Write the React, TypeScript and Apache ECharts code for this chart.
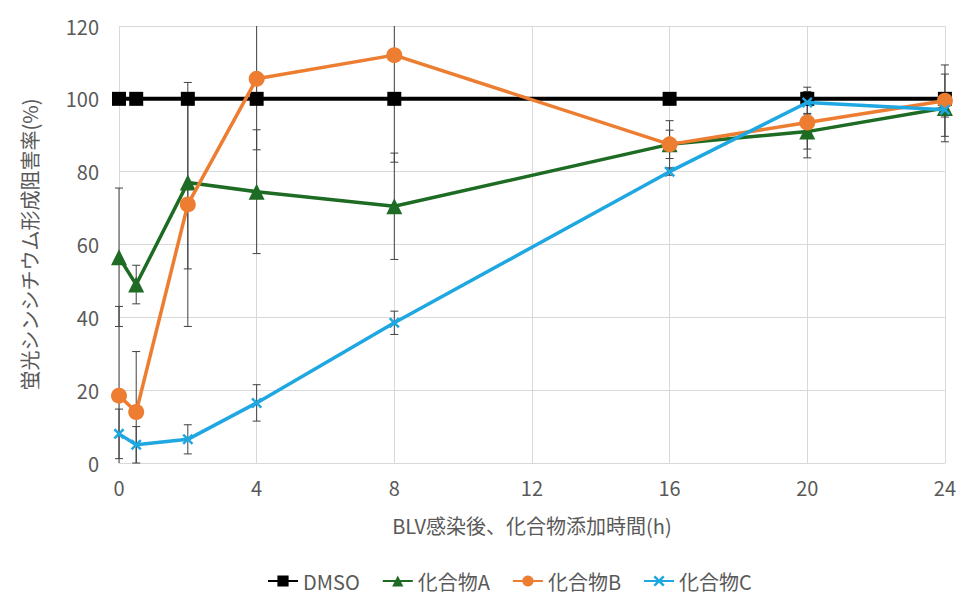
import React, { useEffect, useRef } from "react";
import * as echarts from "echarts";

const hours = [0, 0.5, 2, 4, 8, 16, 20, 24];
const dmso = [100, 100, 100, 100, 100, 100, 100, 100];
const compA = [56.5, 49, 77, 74.5, 70.5, 87.5, 91, 97.5];
const compB = [18.5, 14, 71, 105.5, 112, 87.5, 93.5, 99.5];
const compC = [8, 5, 6.5, 16.5, 38.5, 80, 99, 97];
const errA = [19, 5.3, 23.7, 17, 14.6, 6.5, 4.8, 9.3];
const errB = [24.5, 16.6, 33.5, 19.5, 29.4, 3.9, 9.7, 9.8];
const errC = [6.8, 5, 4, 5, 3.2, 1, 3, 2];
const seriesNames = ["DMSO", "化合物A", "化合物B", "化合物C"];
const xTicks = { min: 0, max: 24, interval: 4 };
const yTicks = { min: 0, max: 120, interval: 20 };

const FONT = "'Noto Sans CJK JP', 'Noto Sans', sans-serif";
const TEXT = "#595959";
const GRID = "#d9d9d9";

const pairs = (vals: number[]) => hours.map((h, i) => [h, vals[i]]);
const triples = (vals: number[], errs: number[]) => hours.map((h, i) => [h, vals[i], errs[i]]);

const X_PATH = "path://M0,1.6 L1.6,0 L5,3.4 L8.4,0 L10,1.6 L6.6,5 L10,8.4 L8.4,10 L5,6.6 L1.6,10 L0,8.4 L3.4,5 Z";

function errorSeries(vals: number[], errs: number[]) {
  return {
    type: "custom",
    silent: true,
    z: 1,
    data: triples(vals, errs),
    encode: { x: 0, y: 1 },
    renderItem: (params: any, api: any) => {
      const x = api.value(0);
      const y = api.value(1);
      const e = api.value(2);
      const top = y + e;
      const bot = y - e;
      const pt = api.coord([x, Math.min(top, yTicks.max)]);
      const pb = api.coord([x, Math.max(bot, yTicks.min)]);
      const style = { stroke: "#404040", lineWidth: 1 };
      const children: any[] = [
        { type: "line", shape: { x1: pt[0], y1: pt[1], x2: pb[0], y2: pb[1] }, style },
      ];
      const cw = 4;
      if (top <= yTicks.max)
        children.push({ type: "line", shape: { x1: pt[0] - cw, y1: pt[1], x2: pt[0] + cw, y2: pt[1] }, style });
      if (bot >= yTicks.min)
        children.push({ type: "line", shape: { x1: pb[0] - cw, y1: pb[1], x2: pb[0] + cw, y2: pb[1] }, style });
      return { type: "group", children };
    },
  };
}

export default function App() {
  const ref = useRef<HTMLDivElement>(null);
  useEffect(() => {
    if (!ref.current) return;
    const chart = echarts.init(ref.current, null, { renderer: "svg" });
    chart.setOption({
      animation: false,
      backgroundColor: "#ffffff",
      textStyle: { fontFamily: FONT },
      grid: { left: 119, right: 13, top: 26, bottom: 133, containLabel: false },
      legend: {
        data: seriesNames,
        bottom: 0,
        left: 262,
        itemWidth: 30,
        itemHeight: 14,
        itemGap: 22,
        textStyle: { fontFamily: FONT, fontSize: 20, color: TEXT },
      },
      xAxis: {
        type: "value",
        min: xTicks.min,
        max: xTicks.max,
        interval: xTicks.interval,
        name: "BLV感染後、化合物添加時間(h)",
        nameLocation: "middle",
        nameGap: 52,
        nameTextStyle: { fontFamily: FONT, fontSize: 20, color: TEXT },
        axisLine: { show: true, lineStyle: { color: GRID, width: 1 } },
        axisTick: { show: false },
        axisLabel: { fontFamily: FONT, fontSize: 20, color: TEXT, margin: 14 },
        splitLine: { show: true, lineStyle: { color: GRID, width: 1 } },
      },
      yAxis: {
        type: "value",
        min: yTicks.min,
        max: yTicks.max,
        interval: yTicks.interval,
        name: "蛍光シンシチウム形成阻害率(%)",
        nameLocation: "middle",
        nameGap: 80,
        nameTextStyle: { fontFamily: FONT, fontSize: 20, color: TEXT },
        axisLine: { show: false },
        axisTick: { show: false },
        axisLabel: { fontFamily: FONT, fontSize: 20, color: TEXT, margin: 20 },
        splitLine: { show: true, lineStyle: { color: GRID, width: 1 } },
      },
      series: [
        errorSeries(compA, errA),
        errorSeries(compB, errB),
        errorSeries(compC, errC),
        {
          name: seriesNames[0],
          type: "line",
          z: 3,
          data: pairs(dmso),
          symbol: "rect",
          symbolSize: 14,
          itemStyle: { color: "#000000" },
          lineStyle: { color: "#000000", width: 4 },
        },
        {
          name: seriesNames[1],
          type: "line",
          z: 4,
          data: pairs(compA),
          symbol: "triangle",
          symbolSize: 16,
          itemStyle: { color: "#1e6b24" },
          lineStyle: { color: "#1e6b24", width: 3.5 },
        },
        {
          name: seriesNames[2],
          type: "line",
          z: 5,
          data: pairs(compB),
          symbol: "circle",
          symbolSize: 16,
          itemStyle: { color: "#ed7d31" },
          lineStyle: { color: "#ed7d31", width: 3.5 },
        },
        {
          name: seriesNames[3],
          type: "line",
          z: 6,
          data: pairs(compC),
          symbol: X_PATH,
          symbolSize: 11,
          itemStyle: { color: "#1ea7e1" },
          lineStyle: { color: "#1ea7e1", width: 3.5 },
        },
      ],
    });
    return () => chart.dispose();
  }, []);
  return (
    <div
      ref={ref}
      style={{ position: "fixed", left: 0, top: 0, width: 959, height: 596 }}
    />
  );
}
